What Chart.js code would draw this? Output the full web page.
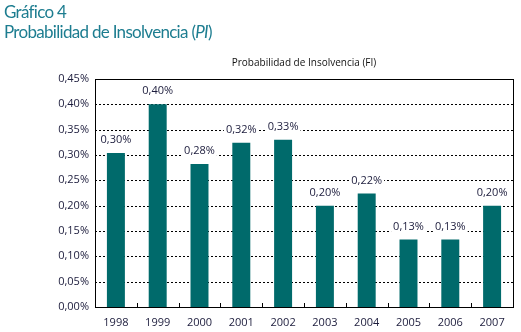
<!DOCTYPE html>
<html>
<head>
<meta charset="utf-8">
<script src="https://cdn.jsdelivr.net/npm/chart.js@4/dist/chart.umd.min.js"></script>
<style>
  body { margin: 0; background: #fff; }
  #wrap { position: relative; width: 521px; height: 332px; }
  #head { position: absolute; left: 4px; top: 2px; color: #1d7d90; font-family: Lato, sans-serif; font-size: 17px; line-height: 20px; letter-spacing: -0.7px; }
</style>
</head>
<body>
<div id="wrap">
  <div id="head">Gráfico 4<br>Probabilidad de Insolvencia (<i>PI</i>)</div>
  <canvas id="PIChart"></canvas>
</div>
<script>
var years = ["1998", "1999", "2000", "2001", "2002", "2003", "2004", "2005", "2006", "2007"];
var piValues = [0.304, 0.40, 0.282, 0.324, 0.330, 0.20, 0.224, 0.133, 0.133, 0.20];
var piLabels = ["0,30%", "0,40%", "0,28%", "0,32%", "0,33%", "0,20%", "0,22%", "0,13%", "0,13%", "0,20%"];
var yMin = 0, yMax = 0.45, yStep = 0.05;
var chartTitle = "Probabilidad de Insolvencia (FI)";

var ink = "#1c1c3c";
var fontName = "'Open Sans', sans-serif";

// dashed gridlines, drawn before the bars
var dashGrid = {
	id: "dashGrid",
	beforeDatasetsDraw: function(chart) {
		var ctx = chart.ctx;
		var a = chart.chartArea;
		var y = chart.scales.y;
		ctx.save();
		ctx.strokeStyle = "#000";
		ctx.lineWidth = 1;
		ctx.setLineDash([2, 2]);
		ctx.beginPath();
		y.ticks.forEach(function(t) {
			if (t.value <= yMin || t.value >= yMax) return;
			var py = Math.round(y.getPixelForValue(t.value)) + 0.5;
			ctx.moveTo(a.left, py);
			ctx.lineTo(a.right, py);
		});
		ctx.stroke();
		ctx.restore();
	}
};

// value labels above bars, white box behind so the dashes stop at the text
var barLabels = {
	id: "barLabels",
	afterDatasetsDraw: function(chart) {
		var ctx = chart.ctx;
		var bars = chart.getDatasetMeta(0).data;
		ctx.save();
		ctx.font = "11px " + fontName;
		ctx.textAlign = "center";
		ctx.textBaseline = "middle";
		bars.forEach(function(bar, i) {
			var txt = piLabels[i];
			var w = ctx.measureText(txt).width;
			var y = bar.y - 13;
			ctx.fillStyle = "#fff";
			ctx.fillRect(bar.x - w / 2 - 2, y - 6, w + 4, 12);
			ctx.fillStyle = ink;
			ctx.fillText(txt, bar.x, y);
		});
		// title centred over the plot area
		var a = chart.chartArea;
		ctx.font = "10px " + fontName;
		ctx.fillStyle = "#111";
		ctx.fillText(chartTitle, (a.left + a.right) / 2, 63);
		ctx.restore();
	}
};

// frame around plot + small inward ticks between years
var frame = {
	id: "frame",
	afterDatasetsDraw: function(chart) {
		var ctx = chart.ctx;
		var a = chart.chartArea;
		var x = chart.scales.x;
		ctx.save();
		ctx.strokeStyle = "#000";
		ctx.lineWidth = 1;
		ctx.strokeRect(Math.round(a.left) + 0.5, Math.round(a.top) + 0.5, Math.round(a.right - a.left), Math.round(a.bottom - a.top));
		ctx.beginPath();
		for (var i = 1; i < years.length; i++) {
			var px = Math.round((x.getPixelForValue(i - 1) + x.getPixelForValue(i)) / 2) + 0.5;
			ctx.moveTo(px, a.bottom);
			ctx.lineTo(px, a.bottom - 4);
		}
		ctx.stroke();
		ctx.restore();
	}
};

var PIChart = new Chart(document.getElementById("PIChart").getContext("2d"), {
	type: "bar",
	data: {
		labels: years,
		datasets: [{
			label: "PI",
			data: piValues,
			backgroundColor: "#006a6b",
			borderWidth: 0,
			barPercentage: 0.86,
			categoryPercentage: 0.5
		}]
	},
	options: {
		responsive: true,
		maintainAspectRatio: false,
		animation: false,
		layout: { padding: { top: 79, right: 8, left: 0, bottom: 0 } },
		plugins: {
			legend: { display: false },
			tooltip: { enabled: false },
			title: { display: false }
		},
		scales: {
			x: {
				grid: { display: false, drawTicks: false },
				border: { display: false },
				ticks: { color: ink, font: { family: fontName, size: 11 }, padding: 9 },
				afterFit: function(s) { s.height = 25; }
			},
			y: {
				min: yMin,
				max: yMax,
				grid: { display: false, drawTicks: false },
				border: { display: false },
				ticks: {
					stepSize: yStep,
					color: ink,
					font: { family: fontName, size: 11 },
					padding: 6,
					callback: function(v) { return v.toFixed(2).replace(".", ",") + "%"; }
				},
				afterFit: function(s) { s.width = 95; }
			}
		}
	},
	plugins: [dashGrid, barLabels, frame]
});
</script>
</body>
</html>
